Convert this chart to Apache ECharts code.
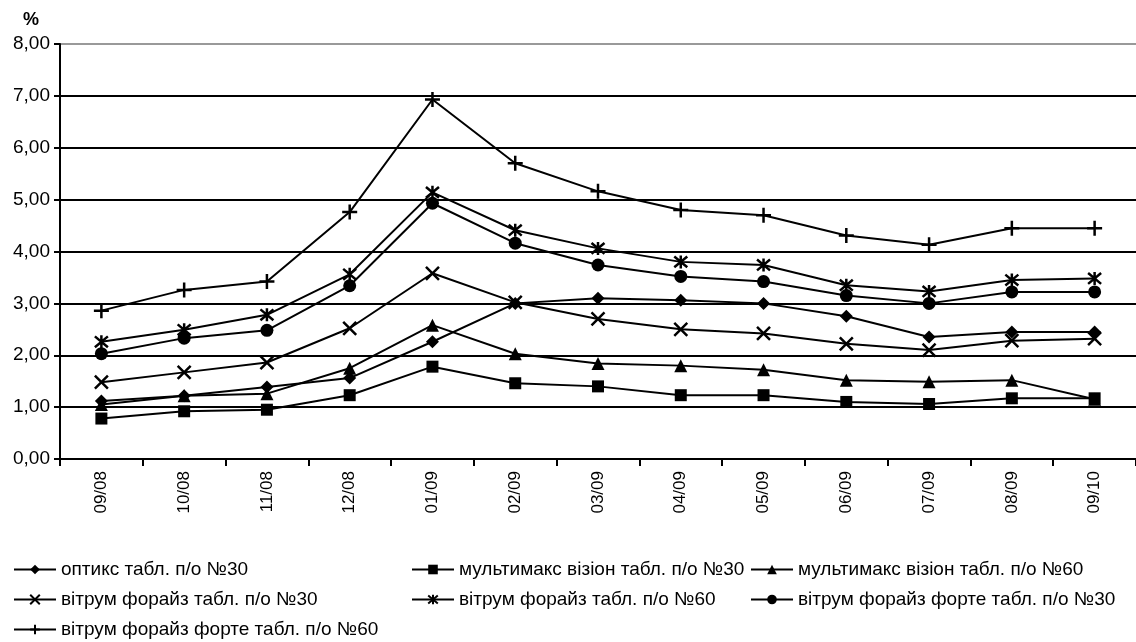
<!DOCTYPE html>
<html>
<head>
<meta charset="utf-8">
<script src="https://cdn.jsdelivr.net/npm/echarts@6/dist/echarts.min.js"></script>
<style>
html, body { margin: 0; padding: 0; background: #fff; }
#main { width: 1136px; height: 642px; }
</style>
</head>
<body>
<div id="main"></div>
<script>
// months on the x axis
var months = ['09/08', '10/08', '11/08', '12/08', '01/09', '02/09', '03/09', '04/09', '05/09', '06/09', '07/09', '08/09', '09/10'];

var names = [
    'оптикс табл. п/о №30',
    'мультимакс візіон табл. п/о №30',
    'мультимакс візіон табл. п/о №60',
    'вітрум форайз табл. п/о №30',
    'вітрум форайз табл. п/о №60',
    'вітрум форайз форте табл. п/о №30',
    'вітрум форайз форте табл. п/о №60'
];

var optiks30 = [1.12, 1.22, 1.39, 1.56, 2.26, 3.00, 3.10, 3.06, 3.00, 2.75, 2.35, 2.45, 2.45];
var multimaks30 = [0.78, 0.92, 0.95, 1.23, 1.78, 1.46, 1.40, 1.23, 1.23, 1.10, 1.06, 1.17, 1.17];
var multimaks60 = [1.05, 1.22, 1.26, 1.75, 2.58, 2.03, 1.84, 1.80, 1.72, 1.52, 1.49, 1.52, 1.15];
var vitrum30 = [1.48, 1.67, 1.86, 2.52, 3.58, 3.02, 2.70, 2.50, 2.42, 2.22, 2.10, 2.28, 2.32];
var vitrum60 = [2.26, 2.49, 2.78, 3.56, 5.14, 4.41, 4.06, 3.80, 3.74, 3.35, 3.23, 3.45, 3.48];
var forte30 = [2.03, 2.33, 2.48, 3.34, 4.93, 4.16, 3.74, 3.52, 3.42, 3.15, 3.00, 3.22, 3.22];
var forte60 = [2.86, 3.26, 3.42, 4.76, 6.93, 5.70, 5.16, 4.80, 4.70, 4.31, 4.13, 4.45, 4.45];

var values = [optiks30, multimaks30, multimaks60, vitrum30, vitrum60, forte30, forte60];

var symbols = [
    'diamond',
    'rect',
    'triangle',
    'path://M0,0L10,10M10,0L0,10',
    'path://M0,0L10,10M10,0L0,10M5,-1L5,11',
    'circle',
    'path://M5,0L5,10M0,5L10,5'
];
var sizes = [13, 12, 13, 13, 13, 13, 15];

var font = 'Liberation Sans, Arial, sans-serif';

// legend spots: three columns, three rows
var legendPos = [
    [13, 560], [411, 560], [750, 560],
    [13, 590], [411, 590], [750, 590],
    [13, 620]
];

var myChart = echarts.init(document.getElementById('main'));

var series = [];
var legends = [];
for (var i = 0; i < names.length; i++) {
    series.push({
        name: names[i],
        type: 'line',
        data: values[i],
        symbol: symbols[i],
        symbolSize: sizes[i],
        showAllSymbol: true,
        lineStyle: { color: '#000', width: 2 },
        itemStyle: { color: '#000', borderColor: '#000', borderWidth: (i == 3 || i == 4 || i == 6) ? 2.5 : 0 },
        emphasis: { disabled: true },
        animation: false,
        z: 3
    });
    legends.push({
        data: [names[i]],
        left: legendPos[i][0],
        top: legendPos[i][1],
        itemWidth: 42,
        itemHeight: 12,
        itemGap: 6,
        padding: 0,
        selectedMode: false,
        textStyle: { fontFamily: font, fontSize: 19, color: '#000', padding: [0, 0, 0, 0] }
    });
}

var option = {
    backgroundColor: '#fff',
    animation: false,
    title: {
        text: '%',
        left: 18,
        top: 6,
        textStyle: { fontFamily: font, fontSize: 18, fontWeight: 'bold', color: '#000' }
    },
    legend: legends,
    grid: {
        left: 60,
        right: 0,
        top: 44,
        bottom: 183,
        containLabel: false
    },
    xAxis: {
        type: 'category',
        data: months,
        boundaryGap: true,
        axisLine: { lineStyle: { color: '#000', width: 2 } },
        axisTick: { show: true, inside: false, length: 7, lineStyle: { color: '#000', width: 2 } },
        axisLabel: {
            rotate: 90,
            margin: 12,
            color: '#000',
            fontFamily: font,
            fontSize: 17,
            interval: 0
        },
        splitLine: { show: false }
    },
    yAxis: {
        type: 'value',
        min: 0,
        max: 8,
        interval: 1,
        axisLine: { show: true, lineStyle: { color: '#000', width: 2 } },
        axisTick: { show: true, length: 6, lineStyle: { color: '#000', width: 2 } },
        axisLabel: {
            margin: 10,
            color: '#000',
            fontFamily: font,
            fontSize: 19,
            formatter: function (v) {
                return v.toFixed(2).replace('.', ',');
            }
        },
        splitLine: {
            show: true,
            lineStyle: {
                color: ['#000', '#000', '#000', '#000', '#000', '#000', '#000', '#000', '#999'],
                width: 2
            }
        }
    },
    series: series
};

myChart.setOption(option);
</script>
</body>
</html>
